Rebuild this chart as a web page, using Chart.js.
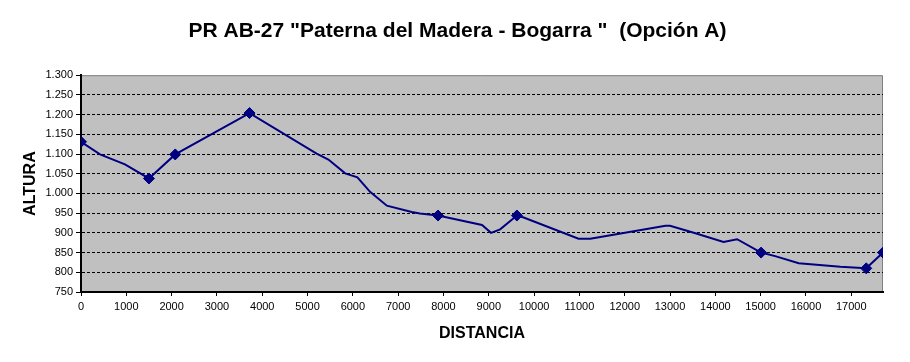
<!DOCTYPE html>
<html>
<head>
<meta charset="utf-8">
<script src="https://cdn.jsdelivr.net/npm/chart.js@4"></script>
<style>
html,body{margin:0;padding:0;background:#fff;}
#wrap{width:910px;height:362px;}
</style>
</head>
<body>
<div id="wrap"><canvas id="c" width="910" height="362"></canvas></div>
<script>
const titleText = 'PR AB-27 "Paterna del Madera - Bogarra "  (Opción A)';
const xTitle = 'DISTANCIA';
const yTitle = 'ALTURA';

const distances = [0, 420, 970, 1500, 2080, 3720, 5200, 5460, 5830, 6100, 6380, 6750, 7300, 7480, 7880, 8850, 9050, 9250, 9620, 9770, 10980, 11240, 12900, 13000, 13560, 14180, 14480, 15010, 15320, 15840, 16760, 17330, 17700];
const altitudes = [1131, 1099, 1074, 1038, 1099, 1204, 1101, 1086, 1051, 1041, 1004, 969, 953, 949, 944, 920, 900, 909, 944, 939, 885, 885, 918, 918, 899, 877, 884, 850, 841, 823, 814, 810, 850];

const waypointDist = [0, 1500, 2080, 3720, 7880, 9620, 15010, 17330, 17700];
const waypointAlt = [1131, 1038, 1099, 1204, 944, 944, 850, 810, 850];

const xTickValues = [0, 1000, 2000, 3000, 4000, 5000, 6000, 7000, 8000, 9000, 10000, 11000, 12000, 13000, 14000, 15000, 16000, 17000];
const yTickValues = [750, 800, 850, 900, 950, 1000, 1050, 1100, 1150, 1200, 1250, 1300];

const xMin = 0, xMax = 17700;
const yMin = 750, yMax = 1300;

const FONT = "'Liberation Sans', Arial, sans-serif";

const plotBg = {
  id: 'plotBg',
  beforeDraw(chart) {
    const {ctx, chartArea: a} = chart;
    ctx.save();
    ctx.fillStyle = '#C0C0C0';
    ctx.fillRect(a.left, a.top, a.right - a.left, a.bottom - a.top);
    ctx.strokeStyle = '#808080';
    ctx.lineWidth = 1;
    ctx.beginPath();
    ctx.moveTo(a.left, a.top + 0.5);
    ctx.lineTo(a.right - 0.5, a.top + 0.5);
    ctx.lineTo(a.right - 0.5, a.bottom);
    ctx.stroke();
    ctx.restore();
  }
};

const lineData = distances.map((d, i) => ({x: d, y: altitudes[i]}));
const wpData = waypointDist.map((d, i) => ({x: d, y: waypointAlt[i]}));

new Chart(document.getElementById('c'), {
  type: 'scatter',
  data: {
    datasets: [
      {
        data: lineData,
        showLine: true,
        borderColor: '#000080',
        borderWidth: 2,
        pointRadius: 0,
        fill: false,
        tension: 0
      },
      {
        data: wpData,
        showLine: false,
        pointStyle: 'rectRot',
        pointRadius: 5.5,
        backgroundColor: '#000080',
        borderColor: '#000080',
        borderWidth: 1
      }
    ]
  },
  options: {
    responsive: false,
    animation: false,
    layout: {padding: {left: 5, right: 0, top: 0, bottom: 0}},
    plugins: {
      legend: {display: false},
      tooltip: {enabled: false},
      title: {
        display: true,
        text: titleText,
        color: '#000',
        font: {family: FONT, size: 21, weight: 'bold'},
        padding: {top: 19, bottom: 31}
      }
    },
    scales: {
      x: {
        type: 'linear',
        min: xMin, max: xMax,
        afterFit(s) { s.height = 70; },
        afterBuildTicks(s) { s.ticks = xTickValues.map(v => ({value: v})); },
        ticks: {
          color: '#000',
          font: {family: FONT, size: 11},
          padding: 4,
          maxRotation: 0,
          autoSkip: false,
          callback: v => String(v)
        },
        grid: {
          drawOnChartArea: false,
          drawTicks: true,
          tickLength: 4,
          tickColor: '#000',
          tickWidth: 1
        },
        border: {display: true, color: '#000', width: 2},
        title: {
          display: true,
          text: xTitle,
          color: '#000',
          font: {family: FONT, size: 16, weight: 'bold'},
          padding: {top: 0, bottom: 19}
        }
      },
      y: {
        type: 'linear',
        min: yMin, max: yMax,
        afterFit(s) { s.width = 76; },
        afterBuildTicks(s) { s.ticks = yTickValues.map(v => ({value: v})); },
        ticks: {
          color: '#000',
          font: {family: FONT, size: 11},
          padding: 3,
          autoSkip: false,
          callback: v => String(v).replace(/\B(?=(\d{3})+(?!\d))/g, '.')
        },
        grid: {
          color: ctx => (ctx.tick && (ctx.tick.value === yMin || ctx.tick.value === yMax)) ? 'rgba(0,0,0,0)' : '#000',
          lineWidth: 1,
          drawTicks: true,
          tickLength: 5,
          tickColor: '#000'
        },
        border: {display: true, color: '#000', width: 2, dash: [3, 2]},
        title: {
          display: true,
          text: yTitle,
          color: '#000',
          font: {family: FONT, size: 16, weight: 'bold'},
          padding: {top: 16, bottom: 0}
        }
      },
      yRight: {
        type: 'linear',
        position: 'right',
        display: true,
        min: yMin, max: yMax,
        afterFit(s) { s.width = 27; },
        ticks: {display: false},
        grid: {display: false, drawTicks: false},
        border: {display: false}
      }
    }
  },
  plugins: [plotBg]
});
</script>
</body>
</html>
